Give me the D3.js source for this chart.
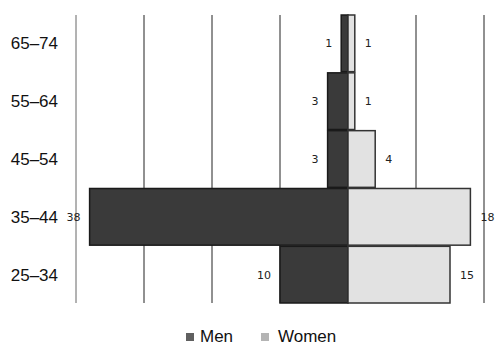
<!DOCTYPE html>
<html>
<head>
<meta charset="utf-8">
<script src="https://cdn.jsdelivr.net/npm/d3@7"></script>
<style>
  body { margin: 0; background: #fff; }
  svg { display: block; }
</style>
</head>
<body>
<div id="chart"></div>
<script>
// age groups, top to bottom
const ageGroups = ["65–74", "55–64", "45–54", "35–44", "25–34"];
const menValues = [1, 3, 3, 38, 10];
const womenValues = [1, 1, 4, 18, 15];
const gridTicks = [-40, -30, -20, -10, 10, 20];
const legendKeys = ["Men", "Women"];

const width = 503, height = 355;
const plot = { left: 76, right: 484, top: 15, bottom: 303 };

const svg = d3.select("#chart").append("svg")
    .attr("width", width)
    .attr("height", height);

// scales
const x = d3.scaleLinear()
    .domain([-40, 20])
    .range([plot.left, plot.right]);

const y = d3.scaleBand()
    .domain(ageGroups)
    .range([plot.top, plot.bottom])
    .paddingInner(0.02);

// gridlines
svg.append("g").selectAll("line")
    .data(gridTicks)
    .join("line")
    .attr("x1", d => x(d)).attr("x2", d => x(d))
    .attr("y1", plot.top).attr("y2", plot.bottom)
    .attr("stroke", d => d == -40 ? "#666" : "#222")
    .attr("stroke-width", 1);

// men bars
const menBars = svg.append("g");
menBars.selectAll("rect")
    .data(ageGroups)
    .join("rect")
    .attr("x", (d, i) => x(-menValues[i]))
    .attr("y", d => y(d))
    .attr("width", (d, i) => x(0) - x(-menValues[i]))
    .attr("height", y.bandwidth())
    .attr("fill", "#3a3a3a")
    .attr("stroke", "#1a1a1a")
    .attr("stroke-width", 1.5);

// women bars
const womenBars = svg.append("g");
womenBars.selectAll("rect")
    .data(ageGroups)
    .join("rect")
    .attr("x", x(0))
    .attr("y", d => y(d))
    .attr("width", (d, i) => x(womenValues[i]) - x(0))
    .attr("height", y.bandwidth())
    .attr("fill", "#e2e2e2")
    .attr("stroke", "#333")
    .attr("stroke-width", 1.5);

// value labels
svg.append("g").selectAll("text")
    .data(ageGroups)
    .join("text")
    .attr("x", (d, i) => x(-menValues[i]) - 9)
    .attr("y", d => y(d) + y.bandwidth() / 2)
    .attr("dy", "0.35em")
    .attr("text-anchor", "end")
    .attr("font-family", "DejaVu Sans")
    .attr("font-size", 11)
    .attr("fill", "#222")
    .text((d, i) => menValues[i]);

svg.append("g").selectAll("text")
    .data(ageGroups)
    .join("text")
    .attr("x", (d, i) => x(womenValues[i]) + 10)
    .attr("y", d => y(d) + y.bandwidth() / 2)
    .attr("dy", "0.35em")
    .attr("text-anchor", "start")
    .attr("font-family", "DejaVu Sans")
    .attr("font-size", 11)
    .attr("fill", "#222")
    .text((d, i) => womenValues[i]);

// category labels
svg.append("g").selectAll("text")
    .data(ageGroups)
    .join("text")
    .attr("x", 58)
    .attr("y", d => y(d) + y.bandwidth() / 2)
    .attr("dy", "0.35em")
    .attr("text-anchor", "end")
    .attr("font-family", "Liberation Sans, Arial, sans-serif")
    .attr("font-size", 17)
    .attr("fill", "#111")
    .text(d => d);

// legend
const legendColors = d3.scaleOrdinal()
    .domain(legendKeys)
    .range(["#606060", "#b4b4b4"]);
const legendX = { Men: 186, Women: 261 };

const legend = svg.append("g").selectAll("g")
    .data(legendKeys)
    .join("g")
    .attr("transform", d => `translate(${legendX[d]},333)`);

legend.append("rect")
    .attr("width", 8).attr("height", 8)
    .attr("fill", d => legendColors(d));

legend.append("text")
    .attr("x", d => d == "Men" ? 14 : 17)
    .attr("y", 9)
    .attr("font-family", "Liberation Sans, Arial, sans-serif")
    .attr("font-size", 17)
    .attr("fill", "#111")
    .text(d => d);
</script>
</body>
</html>
